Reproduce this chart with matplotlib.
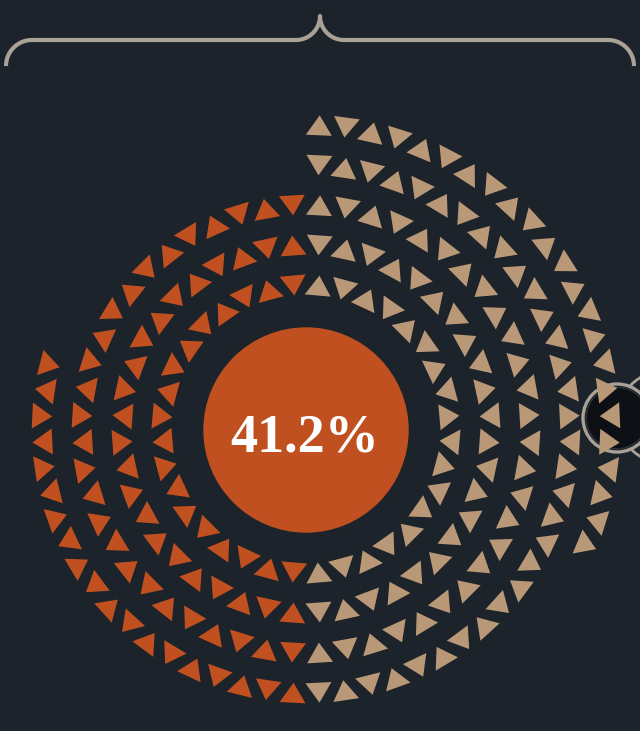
import numpy as np
import matplotlib.pyplot as plt
from matplotlib.collections import PolyCollection
from matplotlib.patches import Circle

# Ring data: triangles that would close each ring, and how many are drawn in each colour
share_label = "41.2%"
ring_sizes = [36, 44, 52, 64, 72]
tan_counts = [18, 22, 26, 32, 23]
orange_counts = [18, 22, 26, 19, 0]

bg = "#1c232b"
orange = "#c15020"
tan = "#b99878"
grey = "#aaa197"

cx, cy = 306, 429
r0, gap = 144, 40
base, height = 26, 20

fig = plt.figure(figsize=(6.4, 7.31), dpi=100)
fig.patch.set_facecolor(bg)
ax = fig.add_axes([0, 0, 1, 1])
ax.set_xlim(0, 640)
ax.set_ylim(731, 0)
ax.set_aspect("equal")
ax.axis("off")

# brace on top
def arc(xc, yc, r, a0, a1):
    t = np.radians(np.linspace(a0, a1, 30))
    return xc + r * np.cos(t), yc + r * np.sin(t)

pts_x, pts_y = [], []
for seg in [arc(32, 66, 26, 180, 270), arc(296, 16, 24, 90, 0),
            arc(344, 16, 24, 180, 90), arc(608, 66, 26, 270, 360)]:
    pts_x.extend(seg[0])
    pts_y.extend(seg[1])
ax.plot(pts_x, pts_y, color=grey, lw=3, solid_capstyle="butt", solid_joinstyle="round")

# button on the right edge
ax.add_patch(Circle((664, 417), 46, fill=False, ec=grey, lw=2.0, zorder=1))
ax.add_patch(Circle((617, 418), 34, fc="#0c1014", ec=grey, lw=2.4, zorder=2))
ax.add_patch(Circle((617, 418), 31, fill=False, ec="#2a323a", lw=1.2, zorder=2))

# triangles
polys, colors = [], []
for i, n in enumerate(ring_sizes):
    r = r0 + gap * i
    step = 360 / n
    total = tan_counts[i] + orange_counts[i]
    for k in range(total):
        th = np.radians(90 - (k + 0.5) * step)
        u = np.array([np.cos(th), -np.sin(th)])
        t = np.array([np.sin(th), np.cos(th)])
        c = np.array([cx, cy]) + r * u
        s = 1 if (k + i) % 2 == 0 else -1
        apex = c + s * u * height / 2
        b1 = c - s * u * height / 2 + t * base / 2
        b2 = c - s * u * height / 2 - t * base / 2
        polys.append([apex, b1, b2])
        colors.append(tan if k < tan_counts[i] else orange)
ax.add_collection(PolyCollection(polys, facecolors=colors, edgecolors="none", zorder=3))

# centre disc and label
ax.add_patch(Circle((306, 430), 102, color=orange, zorder=3))
ax.text(305, 452, share_label, ha="center", va="baseline", color="white",
        fontsize=39, fontweight="bold", family="Liberation Serif", zorder=4)

fig.savefig("out.png", dpi=100, facecolor=bg)
